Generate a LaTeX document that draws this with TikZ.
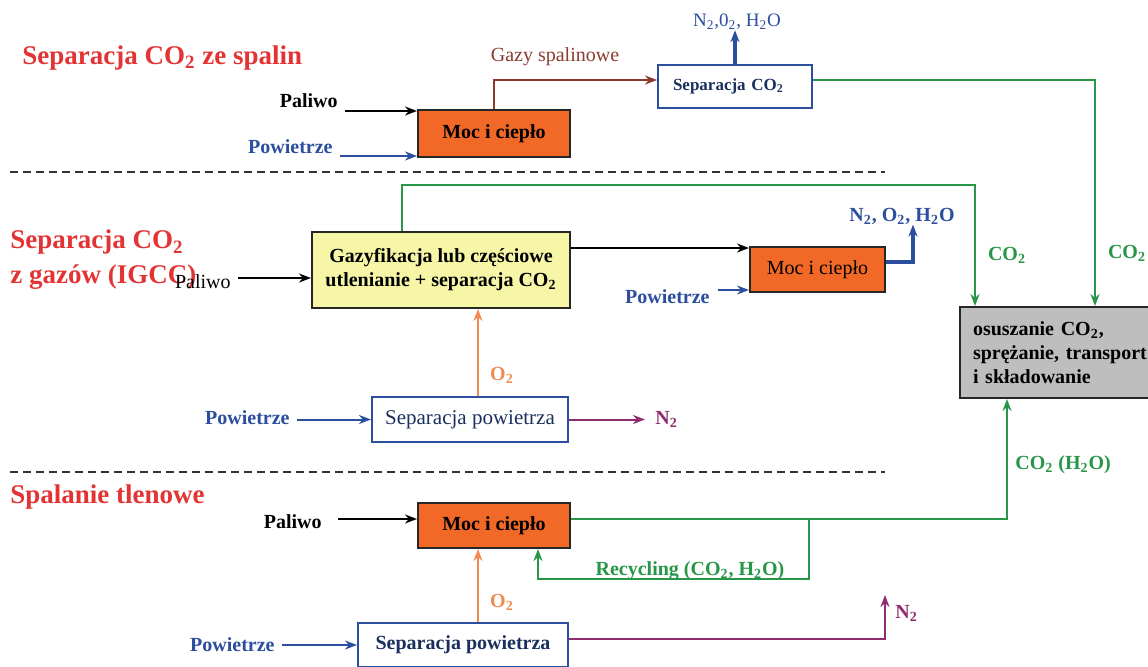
\documentclass[tikz,border=0pt]{standalone}
\usepackage{fontspec}
\setmainfont{Liberation Serif}
\usetikzlibrary{arrows.meta,calc}
\definecolor{titlered}{RGB}{226,52,52}
\definecolor{orangebox}{RGB}{242,104,38}
\definecolor{yellowbox}{RGB}{246,246,166}
\definecolor{graybox}{RGB}{190,190,190}
\definecolor{flowgreen}{RGB}{40,150,72}
\definecolor{flowblue}{RGB}{44,78,158}
\definecolor{flowbrown}{RGB}{140,58,46}
\definecolor{flowpurple}{RGB}{142,44,110}
\definecolor{floworange}{RGB}{240,138,80}
\tikzset{
  title/.style={text=titlered, font=\fontsize{13.5}{17.5}\selectfont\bfseries, inner sep=0pt, align=left},
  lbl/.style={font=\fontsize{10}{12}\selectfont\bfseries, inner sep=0pt},
  lblr/.style={font=\fontsize{10}{12}\selectfont, inner sep=0pt},
  box/.style={draw, line width=1pt, inner sep=0pt, font=\fontsize{10}{12}\selectfont\bfseries},
  mocbox/.style={box, fill=orangebox, draw=black!85},
  sepbox/.style={box, fill=white, draw=flowblue, text=flowblue!60!black},
  arr/.style={-{Stealth[length=6pt,width=4.5pt]}, line width=1pt},
  garr/.style={arr, draw=flowgreen, line width=1.4pt},
  oarr/.style={arr, draw=floworange},
  parr/.style={arr, draw=flowpurple},
  barr/.style={arr, draw=flowblue},
  sep/.style={dashed, dash pattern=on 4pt off 2.5pt, line width=0.6pt, draw=black!80}
}
\begin{document}
\begin{tikzpicture}[x=0.5pt,y=-0.5pt]
\useasboundingbox (0,0) rectangle (1148,666);

% ---------- section 1 ----------
\node[title, anchor=west] (t1) at (22,58) {Separacja CO\textsubscript{2} ze spalin};
\node[lbl, anchor=east] (pal1) at (338,101) {Paliwo};
\node[lbl, anchor=east, text=flowblue] (pow1) at (333,147) {Powietrze};
\node[mocbox, minimum width=76pt, minimum height=23.5pt] (moc1) at (494,133.5) {Moc i ciepło};
\node[sepbox, minimum width=77pt, minimum height=21.5pt, text width=62pt, inner xsep=7.5pt, align=left, font=\fontsize{8.5}{10}\selectfont\bfseries] (sep1) at (735,86.5) {Separacja CO\textsubscript{2}};
\node[lblr, text=flowbrown] (gazy) at (555,57) {Gazy spalinowe};
\node[lblr, text=flowblue, font=\fontsize{9.5}{11}\selectfont] (n1) at (737,22) {N\textsubscript{2},0\textsubscript{2}, H\textsubscript{2}O};
\node[lbl, text=flowgreen] (co2a) at (1127,253) {CO\textsubscript{2}};

\coordinate (p1a) at (345,111);
\draw[arr] (p1a) -- (p1a -| moc1.west);
\coordinate (pw1a) at (340,156);
\draw[barr] (pw1a) -- (pw1a -| moc1.west);
\draw[arr, draw=flowbrown] (moc1.north) |- ($(sep1.west)+(0,-6.5)$);
\draw[barr, line width=1.6pt] (sep1.north) -- (sep1.north |- n1.south);

\draw[sep] (10,172) -- (885,172);

% ---------- section 2 ----------
\node[title, anchor=west] (t2) at (10,260) {Separacja CO\textsubscript{2}\\z gazów (IGCC)};
\node[lblr, anchor=east] (pal2) at (231,282) {Paliwo};
\node[box, fill=yellowbox, draw=black!85, minimum width=129pt, minimum height=38pt, align=center, font=\fontsize{10}{12}\selectfont\bfseries] (gaz) at (441,270) {Gazyfikacja lub częściowe\\utlenianie + separacja CO\textsubscript{2}};
\node[mocbox, font=\fontsize{10}{12}\selectfont, minimum width=67.5pt, minimum height=22.5pt] (moc2) at (817.5,269.5) {Moc i ciepło};
\node[lbl, text=flowblue] (n2) at (902,216) {N\textsubscript{2}, O\textsubscript{2}, H\textsubscript{2}O};
\node[lbl, anchor=east, text=flowblue] (pow2) at (710,297) {Powietrze};
\node[lbl, text=flowgreen] (co2b) at (1007,255) {CO\textsubscript{2}};
\node[lbl, text=floworange] (o2a) at (502,375) {O\textsubscript{2}};
\node[sepbox, font=\fontsize{10.5}{12}\selectfont, minimum width=98pt, minimum height=22.5pt] (sepp2) at (470,419.5) {Separacja powietrza};
\node[lbl, anchor=east, text=flowblue] (pow3) at (290,418) {Powietrze};
\node[lbl, anchor=west, text=flowpurple] (n2b) at (655,419) {N\textsubscript{2}};

\node[box, fill=graybox, draw=black!85, minimum height=45.5pt, text width=90pt, inner xsep=6.5pt, align=left, font=\fontsize{10}{12}\selectfont\bfseries] (gray) at (1063,352.5) {osuszanie CO\textsubscript{2},\\sprężanie, transport\\i składowanie};

\coordinate (p2a) at (238,278);
\draw[arr] (p2a) -- (p2a -| gaz.west);
\coordinate (c2a) at (402,185);
\coordinate (c2b) at (975,185);
\draw[garr] (c2a |- gaz.north) -- (c2a) -- (c2b) -- (c2b |- gray.north);
\coordinate (c1) at (1095,80);
\draw[garr] (sep1.east |- c1) -- (c1) -- (c1 |- gray.north);
\coordinate (c3) at (600,248);
\draw[arr, line width=0.7pt] (gaz.east |- c3) -- (c3 -| moc2.west);
\coordinate (c4) at (913,262);
\draw[barr, line width=2pt] (moc2.east |- c4) -- (c4) -- (c4 |- n2.south);
\coordinate (c5) at (718,290);
\draw[barr] (c5) -- (c5 -| moc2.west);
\coordinate (c6) at (478,0);
\draw[oarr] (sepp2.north -| c6) -- (gaz.south -| c6);
\coordinate (pw3a) at (297,419.5);
\draw[barr] (pw3a) -- (sepp2.west);
\coordinate (c10) at (645,0);
\draw[parr] (sepp2.east) -- (sepp2.east -| c10);

\draw[sep] (10,472) -- (885,472);

% ---------- section 3 ----------
\node[title, anchor=west] (t3) at (10,497) {Spalanie tlenowe};
\node[lbl, anchor=east] (pal3) at (322,522) {Paliwo};
\node[mocbox, minimum width=76pt, minimum height=22.5pt] (moc3) at (494,525.5) {Moc i ciepło};
\node[lbl, anchor=west, text=flowgreen] (co2c) at (1015,465) {CO\textsubscript{2} (H\textsubscript{2}O)};
\node[lbl, anchor=base, text=flowgreen] (rec) at (690,575) {Recycling (CO\textsubscript{2}, H\textsubscript{2}O)};
\node[lbl, text=floworange] (o2b) at (502,602) {O\textsubscript{2}};
\node[sepbox, minimum width=105pt, minimum height=22pt] (sepp3) at (463,645) {Separacja powietrza};
\node[lbl, anchor=east, text=flowblue] (pow4) at (275,645) {Powietrze};
\node[lbl, anchor=west, text=flowpurple] (n2c) at (895,613) {N\textsubscript{2}};

\coordinate (c7) at (1007,519);
\draw[garr] (moc3.east |- c7) -- (c7) -- (c7 |- gray.south);
\coordinate (r1) at (809,519);
\coordinate (r2) at (809,579);
\coordinate (r3) at (538,579);
\draw[garr] (r1) -- (r2) -- (r3) -- (r3 |- moc3.south);
\coordinate (p3a) at (338,519);
\draw[arr] (p3a) -- (p3a -| moc3.west);
\draw[oarr] (sepp3.north -| c6) -- (moc3.south -| c6);
\coordinate (pw4a) at (282,645);
\draw[barr] (pw4a) -- (sepp3.west);
\coordinate (c9) at (885,639);
\coordinate (c9b) at (885,595);
\draw[parr] (sepp3.east |- c9) -- (c9) -- (c9b);
\end{tikzpicture}
\end{document}
